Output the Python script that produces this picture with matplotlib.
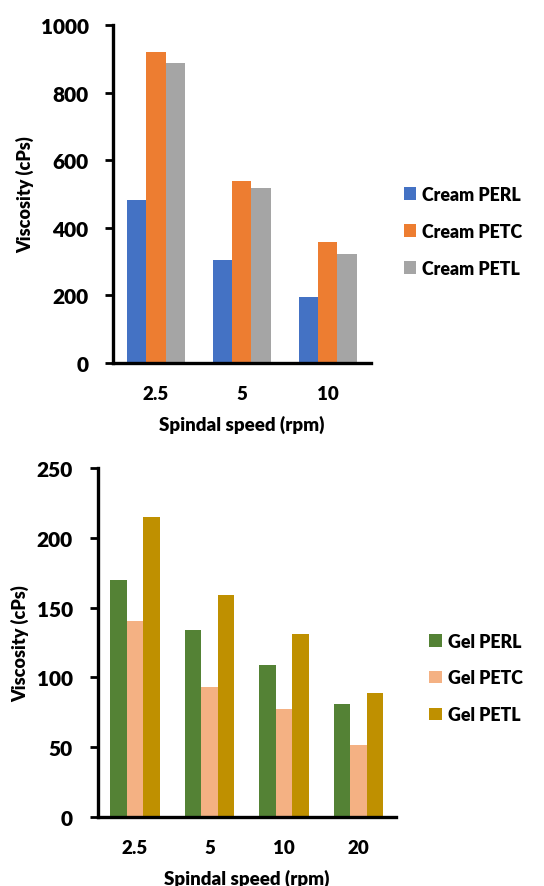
import numpy as np
import matplotlib
matplotlib.use("Agg")
import matplotlib.pyplot as plt

plt.rcParams['font.family'] = ['Lato', 'DejaVu Sans']
plt.rcParams['font.weight'] = 'heavy'
plt.rcParams['axes.labelweight'] = 'heavy'

# cream data
cream_speeds = ["2.5", "5", "10"]
cream_labels = ["Cream PERL", "Cream PETC", "Cream PETL"]
cream_perl = [482, 306, 194]
cream_petc = [919, 540, 357]
cream_petl = [887, 517, 324]
cream_colors = ["#4472C4", "#ED7D31", "#A5A5A5"]

# gel data
gel_speeds = ["2.5", "5", "10", "20"]
gel_labels = ["Gel PERL", "Gel PETC", "Gel PETL"]
gel_perl = [170, 134, 109, 81]
gel_petc = [140, 93, 77, 51.5]
gel_petl = [215, 159, 131, 88.5]
gel_colors = ["#548235", "#F4B183", "#BF9000"]

fig = plt.figure(figsize=(5.44, 8.87), dpi=100)

def draw(ax, speeds, series, labels, colors, ymax, step, tickpad, legend_anchor):
    x = np.arange(len(speeds))
    w = 0.667 / 3
    for i, (vals, lab, col) in enumerate(zip(series, labels, colors)):
        ax.bar(x + (i - 1) * w, vals, w, color=col, label=lab, zorder=2)
    ax.set_xlim(-0.5, len(speeds) - 0.5)
    ax.set_ylim(0, ymax)
    ax.set_yticks(np.arange(0, ymax + 1, step))
    ax.set_xticks(x)
    ax.set_xticklabels(speeds)
    for s in ['top', 'right']:
        ax.spines[s].set_visible(False)
    for s in ['left', 'bottom']:
        ax.spines[s].set_linewidth(2.4)
        ax.spines[s].set_color('black')
    ax.tick_params(axis='y', length=5.5, width=2.0, direction='out', pad=tickpad,
                   labelsize=15)
    ax.tick_params(axis='x', length=0, pad=16, labelsize=13.5)
    ax.set_xlabel("Spindal speed (rpm)", fontsize=13.5, fontweight='heavy', labelpad=9)
    ax.set_ylabel("Viscosity (cPs)", fontsize=13, fontweight='heavy', labelpad=5)
    ax.legend(loc='center left', bbox_to_anchor=legend_anchor, frameon=False,
              fontsize=12.8, handlelength=0.7, handleheight=0.7,
              handletextpad=0.35, labelspacing=1.12, borderaxespad=0)

ax1 = fig.add_axes([0.2077, 0.5896, 0.474, 0.381])
draw(ax1, cream_speeds, [cream_perl, cream_petc, cream_petl], cream_labels,
     cream_colors, 1000, 200, 12, (1.10, 0.39))

ax2 = fig.add_axes([0.1796, 0.0781, 0.548, 0.3931])
draw(ax2, gel_speeds, [gel_perl, gel_petc, gel_petl], gel_labels,
     gel_colors, 250, 50, 12.5, (1.088, 0.398))

fig.savefig("out.png", dpi=100)
